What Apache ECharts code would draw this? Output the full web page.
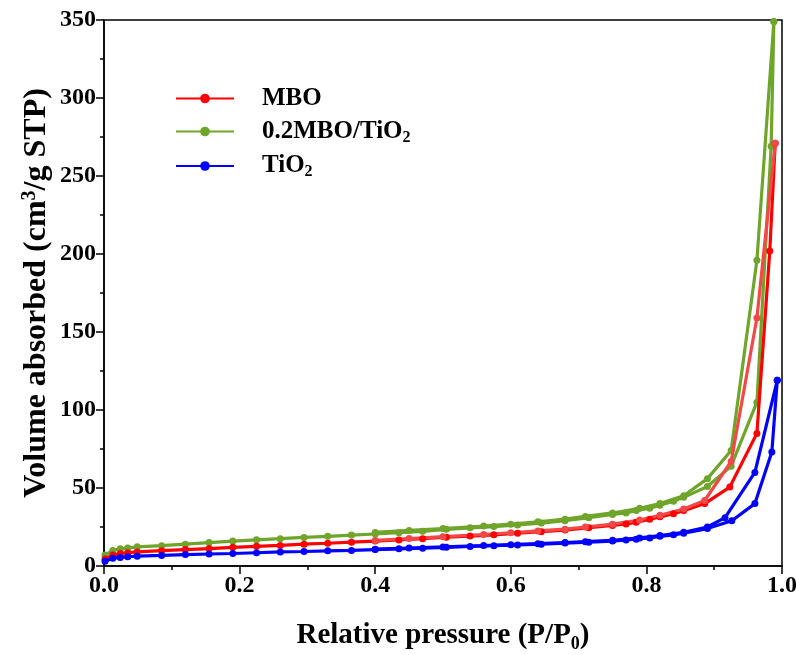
<!DOCTYPE html>
<html>
<head>
<meta charset="utf-8">
<script src="https://cdn.jsdelivr.net/npm/echarts@6/dist/echarts.min.js"></script>
<style>html,body{margin:0;padding:0;background:#fff;}#c{width:796px;height:655px;}</style>
</head>
<body>
<div id="c"></div>
<script>
// ---- data (relative pressure P/P0, volume cm3/g STP) ----
const mboAdsP = [0.0015,0.013,0.024,0.035,0.049,0.085,0.12,0.155,0.19,0.225,0.26,0.295,0.33,0.365,0.40,0.435,0.47,0.505,0.54,0.575,0.61,0.645,0.68,0.715,0.75,0.77,0.785,0.805,0.82,0.84,0.855,0.886,0.923,0.963,0.982,0.99];
const mboAdsV = [4.5,7,8,8.5,9,9.8,10.5,11.2,12,12.6,13.2,14,14.6,15.3,16,16.7,17.5,18.5,19.2,20,21,22,23,24.5,26,27,28,30,31.5,33.5,35.5,40,50.6,85,202,271];
const mboDesP = [0.99,0.963,0.925,0.886,0.855,0.82,0.79,0.75,0.71,0.68,0.64,0.6,0.56,0.5,0.45,0.4];
const mboDesV = [271,159,67,42,36.5,32.5,29.5,26.8,25,23.6,22.5,21.3,20.2,18.8,17.6,16.4];

const compAdsP = [0.0015,0.013,0.024,0.035,0.049,0.085,0.12,0.155,0.19,0.225,0.26,0.295,0.33,0.365,0.40,0.435,0.47,0.505,0.54,0.575,0.61,0.645,0.68,0.715,0.75,0.77,0.785,0.805,0.82,0.84,0.855,0.89,0.925,0.963,0.984,0.988];
const compAdsV = [7,10,11,11.5,12.3,13,14,15,16,16.8,17.5,18.3,19,19.8,20.5,21.3,22.2,23.5,24.5,25.3,26.3,27.5,29,31,33,34,35.5,37,39,41.5,44,51,64,105,269,349];
const compDesP = [0.988,0.963,0.925,0.89,0.855,0.82,0.79,0.75,0.71,0.68,0.64,0.6,0.56,0.5,0.45,0.4];
const compDesV = [349,196,74,56,45,40,37,34,31.8,30,28.3,26.8,25.6,24,22.8,21.5];

const tiAdsP = [0.0015,0.013,0.024,0.035,0.049,0.085,0.12,0.155,0.19,0.225,0.26,0.295,0.33,0.365,0.40,0.435,0.47,0.505,0.54,0.575,0.61,0.645,0.68,0.715,0.75,0.77,0.785,0.805,0.82,0.84,0.855,0.89,0.926,0.96,0.985,0.993];
const tiAdsV = [3,5,5.5,6,6.3,6.8,7.3,7.7,8,8.5,9,9.3,9.7,10,10.5,11,11.4,12,12.5,13,13.5,14,14.7,15.3,16,16.7,17.2,18,19,20,21,24,29,40,73,119];
const tiDesP = [0.993,0.96,0.916,0.89,0.855,0.82,0.79,0.75,0.71,0.68,0.64,0.6,0.56,0.5,0.45,0.4];
const tiDesV = [119,60,31,25,21.6,19.5,18,16.5,15.6,15,14.3,13.7,13.1,12.2,11.5,10.8];

const xTicks = [0,0.2,0.4,0.6,0.8,1.0];
const yTicks = [0,50,100,150,200,250,300,350];

const seriesNames = ['MBO','0.2MBO/TiO2','TiO2'];
const colors = {red:'#ff0000', redDes:'#f24848', green:'#6ea52a', blue:'#0000ff'};

function pairs(p, v){ return p.map((x,i)=>[x, v[i]]); }

const font = 'Liberation Serif';
function mk(name, color, data, z){
  return {
    name: name, type:'line', data: data, z: z,
    symbol:'circle', symbolSize:7, showSymbol:true,
    lineStyle:{color:color, width:3.2},
    itemStyle:{color:color},
    emphasis:{disabled:true}, animation:false
  };
}

const chart = echarts.init(document.getElementById('c'), null, {renderer:'canvas'});
chart.setOption({
  backgroundColor:'#fff',
  animation:false,
  grid:{left:104, right:14, top:20, bottom:89, outerBoundsMode:'none', containLabel:false,
        show:true, borderColor:'#000', borderWidth:1.5, backgroundColor:'transparent'},
  legend:{
    data:seriesNames,
    orient:'vertical', left:170, top:81, itemGap:8,
    itemWidth:58, itemHeight:12,
    textStyle:{fontFamily:font, fontWeight:'bold', fontSize:25, color:'#000',
      rich:{
        b:{fontFamily:font, fontWeight:'bold', fontSize:25, lineHeight:25, color:'#000', padding:[0,0,0,23]},
        s:{fontFamily:font, fontWeight:'bold', fontSize:16, color:'#000', verticalAlign:'bottom', padding:[12,0,0,0]}
      }},
    formatter:function(n){
      if(n==='0.2MBO/TiO2') return '{b|0.2MBO/TiO}{s|2}';
      if(n==='TiO2') return '{b|TiO}{s|2}';
      return '{b|'+n+'}';
    }
  },
  xAxis:{
    type:'value', min:xTicks[0], max:xTicks[xTicks.length-1], interval:0.2,
    name:'Relative pressure (P/P{s|0})', nameLocation:'middle', nameGap:53, nameMoveOverlap:false,
    nameTextStyle:{fontFamily:font, fontWeight:'bold', fontSize:29, color:'#000',
      rich:{s:{fontFamily:font, fontWeight:'bold', fontSize:18, color:'#000', verticalAlign:'bottom', padding:[16,0,0,0]}}},
    axisLine:{show:true, lineStyle:{color:'#000', width:1.5}},
    axisTick:{show:true, inside:false, length:8, lineStyle:{color:'#000', width:1.5}},
    minorTick:{show:true, splitNumber:2, length:4, lineStyle:{color:'#000', width:1.5}},
    splitLine:{show:false},
    axisLabel:{fontFamily:font, fontWeight:'bold', fontSize:24, color:'#000', margin:8,
      formatter:v=>v.toFixed(1)}
  },
  yAxis:{
    type:'value', min:yTicks[0], max:yTicks[yTicks.length-1], interval:50,
    name:'Volume absorbed (cm{p|3}/g STP)', nameLocation:'middle', nameGap:50, nameRotate:90, nameMoveOverlap:false,
    nameTextStyle:{fontFamily:font, fontWeight:'bold', fontSize:32, color:'#000',
      rich:{p:{fontFamily:font, fontWeight:'bold', fontSize:20, color:'#000', verticalAlign:'top', padding:[0,0,14,0]}}},
    axisLine:{show:true, lineStyle:{color:'#000', width:1.5}},
    axisTick:{show:true, inside:false, length:8, lineStyle:{color:'#000', width:1.5}},
    minorTick:{show:true, splitNumber:2, length:4, lineStyle:{color:'#000', width:1.5}},
    splitLine:{show:false},
    axisLabel:{fontFamily:font, fontWeight:'bold', fontSize:24, color:'#000', margin:8}
  },
  series:[
    mk('MBO', colors.red, pairs(mboAdsP, mboAdsV), 3),
    mk('MBO', colors.redDes, pairs(mboDesP, mboDesV), 3),
    mk('0.2MBO/TiO2', colors.green, pairs(compAdsP, compAdsV), 2),
    mk('0.2MBO/TiO2', colors.green, pairs(compDesP, compDesV), 2),
    mk('TiO2', colors.blue, pairs(tiAdsP, tiAdsV), 4),
    mk('TiO2', colors.blue, pairs(tiDesP, tiDesV), 4)
  ]
});
</script>
</body>
</html>
